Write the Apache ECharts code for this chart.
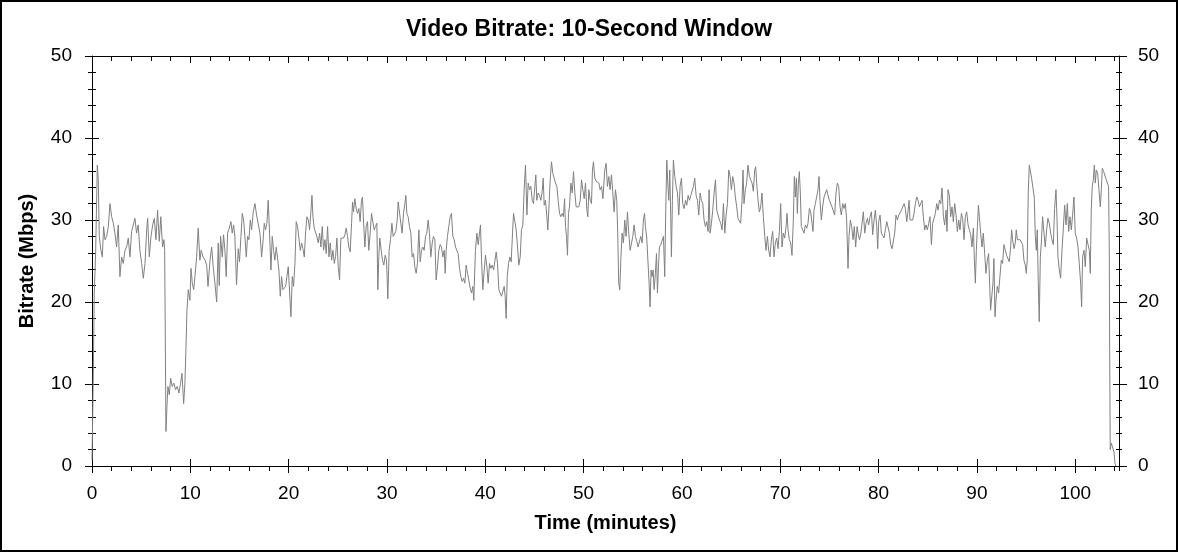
<!DOCTYPE html>
<html>
<head>
<meta charset="utf-8">
<script src="https://cdn.jsdelivr.net/npm/echarts@6/dist/echarts.min.js"></script>
<style>
html,body{margin:0;padding:0;background:#fff;}
#chart{width:1178px;height:552px;}
</style>
</head>
<body>
<div id="chart"></div>
<script>
const chartTitle = 'Video Bitrate: 10-Second Window';
const xName = 'Time (minutes)';
const yName = 'Bitrate (Mbps)';
const xTicks = [0, 10, 20, 30, 40, 50, 60, 70, 80, 90, 100];
const yTicks = [0, 10, 20, 30, 40, 50];

const times = [
0.00,0.12,0.23,0.37,0.54,0.64,0.74,0.91,1.05,1.18,
1.32,1.49,1.66,1.83,2.00,2.17,2.33,2.50,2.67,2.84,
3.01,3.18,3.35,3.52,3.69,3.86,4.03,4.20,4.37,4.53,
4.70,4.87,5.05,5.22,5.39,5.56,5.66,5.83,6.00,6.17,
6.34,6.50,6.67,6.84,7.00,7.18,7.32,7.39,7.45,7.52,
7.62,7.72,7.86,8.00,8.16,8.33,8.50,8.67,8.84,9.01,
9.15,9.32,9.45,9.55,9.66,9.79,9.96,10.07,10.20,10.34,
10.47,10.64,10.80,10.97,11.10,11.30,11.50,11.66,11.80,12.00,
12.17,12.33,12.50,12.68,12.84,12.94,13.08,13.25,13.38,13.52,
13.65,13.79,13.96,14.13,14.26,14.40,14.53,14.70,14.87,15.00,
15.15,15.28,15.42,15.55,15.69,15.82,15.96,16.10,16.23,16.40,
16.57,16.74,16.90,17.08,17.25,17.38,17.52,17.65,17.79,17.92,
18.06,18.20,18.33,18.47,18.60,18.74,18.87,19.01,19.15,19.28,
19.42,19.55,19.69,19.82,19.96,20.10,20.23,20.37,20.50,20.64,
20.77,20.91,21.04,21.18,21.32,21.45,21.59,21.72,21.86,22.00,
22.13,22.26,22.37,22.47,22.60,22.74,22.87,23.01,23.15,23.28,
23.42,23.55,23.69,23.82,23.96,24.10,24.23,24.37,24.50,24.64,
24.77,24.91,25.04,25.18,25.31,25.45,25.59,25.72,25.85,25.99,
26.12,26.26,26.40,26.50,26.60,26.73,26.87,27.00,27.14,27.27,
27.41,27.51,27.61,27.75,27.88,28.02,28.15,28.29,28.43,28.56,
28.70,28.83,28.97,29.07,29.17,29.27,29.41,29.54,29.68,29.82,
29.95,30.09,30.22,30.36,30.50,30.63,30.77,30.90,31.04,31.14,
31.27,31.41,31.54,31.68,31.82,31.92,32.02,32.15,32.29,32.43,
32.56,32.70,32.83,32.97,33.10,33.24,33.38,33.51,33.65,33.78,
33.92,34.05,34.19,34.32,34.46,34.60,34.73,34.87,35.00,35.14,
35.27,35.41,35.54,35.68,35.82,35.92,36.02,36.15,36.29,36.43,
36.56,36.70,36.83,36.97,37.10,37.24,37.38,37.51,37.65,37.78,
37.92,38.05,38.19,38.32,38.46,38.60,38.73,38.83,39.00,39.14,
39.28,39.41,39.51,39.62,39.75,39.89,40.02,40.16,40.29,40.43,
40.56,40.70,40.84,40.97,41.11,41.24,41.38,41.51,41.65,41.79,
41.92,42.02,42.12,42.23,42.36,42.50,42.63,42.77,42.87,43.01,
43.14,43.28,43.41,43.55,43.68,43.82,43.95,44.09,44.23,44.36,
44.50,44.63,44.77,44.90,45.04,45.14,45.24,45.38,45.51,45.65,
45.79,45.89,45.99,46.12,46.26,46.36,46.46,46.60,46.73,46.87,
47.00,47.14,47.28,47.41,47.55,47.68,47.82,47.95,48.06,48.16,
48.26,48.36,48.46,48.56,48.70,48.84,48.97,49.11,49.24,49.38,
49.51,49.65,49.79,49.92,50.06,50.19,50.33,50.43,50.53,50.67,
50.80,50.90,51.00,51.14,51.28,51.41,51.55,51.68,51.82,51.96,
52.15,52.29,52.42,52.56,52.69,52.83,52.96,53.10,53.24,53.37,
53.47,53.57,53.68,53.78,53.91,54.05,54.18,54.32,54.46,54.59,
54.73,54.86,55.00,55.13,55.27,55.41,55.54,55.68,55.81,55.95,
56.08,56.19,56.29,56.42,56.56,56.66,56.76,56.86,56.96,57.07,
57.17,57.30,57.41,57.51,57.61,57.71,57.85,57.98,58.12,58.25,
58.35,58.46,58.56,58.66,58.76,58.86,58.93,59.03,59.13,59.27,
59.41,59.54,59.68,59.81,59.95,60.08,60.22,60.36,60.49,60.63,
60.76,60.90,61.03,61.17,61.30,61.44,61.58,61.71,61.85,61.98,
62.12,62.25,62.39,62.52,62.66,62.76,62.86,63.00,63.13,63.27,
63.41,63.54,63.68,63.81,63.95,64.08,64.22,64.36,64.49,64.63,
64.76,64.90,65.03,65.16,65.30,65.43,65.57,65.70,65.84,65.97,
66.11,66.21,66.31,66.45,66.58,66.72,66.86,66.99,67.13,67.26,
67.40,67.50,67.60,67.74,67.87,68.01,68.14,68.28,68.42,68.55,
68.69,68.82,68.96,69.09,69.23,69.36,69.50,69.64,69.77,69.91,
70.04,70.18,70.31,70.45,70.59,70.69,70.79,70.92,71.06,71.19,
71.33,71.43,71.53,71.64,71.74,71.84,71.94,72.04,72.14,72.28,
72.42,72.55,72.69,72.82,72.96,73.09,73.23,73.33,73.43,73.57,
73.70,73.84,73.94,74.04,74.18,74.31,74.45,74.58,74.72,74.86,
74.99,75.13,75.26,75.40,75.53,75.67,75.80,75.94,76.08,76.21,
76.35,76.48,76.62,76.75,76.89,76.99,77.13,77.26,77.40,77.53,
77.67,77.81,77.94,78.05,78.18,78.32,78.45,78.59,78.72,78.86,
78.99,79.13,79.27,79.40,79.54,79.67,79.81,79.91,80.01,80.15,
80.28,80.42,80.55,80.69,80.83,80.96,81.10,81.23,81.37,81.50,
81.64,81.77,81.91,82.05,82.18,82.32,82.45,82.59,82.72,82.86,
82.99,83.10,83.20,83.33,83.47,83.60,83.74,83.88,84.01,84.15,
84.28,84.42,84.55,84.69,84.82,84.96,85.10,85.23,85.37,85.50,
85.64,85.77,85.91,86.05,86.18,86.32,86.45,86.59,86.72,86.86,
86.96,87.06,87.20,87.33,87.47,87.60,87.74,87.88,88.01,88.15,
88.28,88.42,88.55,88.69,88.82,88.96,89.10,89.23,89.37,89.50,
89.64,89.74,89.84,89.94,90.05,90.15,90.25,90.38,90.52,90.65,
90.79,90.92,91.06,91.19,91.29,91.39,91.53,91.63,91.73,91.84,
91.94,92.07,92.21,92.34,92.48,92.61,92.75,92.89,93.02,93.16,
93.29,93.43,93.53,93.63,93.77,93.90,94.00,94.11,94.24,94.38,
94.51,94.65,94.78,94.92,95.02,95.12,95.22,95.33,95.46,95.56,
95.70,95.83,95.94,96.04,96.14,96.24,96.34,96.45,96.55,96.68,
96.82,96.95,97.09,97.22,97.36,97.50,97.63,97.77,97.90,98.04,
98.14,98.24,98.38,98.51,98.65,98.78,98.92,99.06,99.19,99.33,
99.46,99.60,99.73,99.87,100.00,100.14,100.28,100.41,100.55,100.65,
100.75,100.89,101.02,101.16,101.29,101.43,101.53,101.63,101.73,101.84,
101.94,102.04,102.14,102.28,102.41,102.55,102.65,102.75,102.89,103.02,
103.16,103.29,103.39,103.46,103.50,103.56,103.67,103.80,103.94,104.04,
104.14
];

const rates = [
0.7,10,21,26,36.7,34.9,28,26.3,25.5,29.2,
27.6,28,29.2,32,30.4,29.6,28.4,26.7,29.4,23.1,
25.5,24.7,26.3,26.7,27.8,25.5,28.6,28.8,30.2,28.4,
29.4,26.3,24.7,22.9,24.7,28.8,30.2,25.5,28,29.4,
30.2,27.6,31.2,27.4,30.4,26.7,27.6,26.3,16.2,4.2,
7.2,9.7,8.7,10.7,9.7,10.1,9.3,9.7,8.9,10.1,
11.3,7.6,10.1,14.1,19,21.5,20.2,24.1,22.3,21.5,
23.1,25.5,29,25.1,26.3,25.5,25.1,24.5,21.9,25.1,
26.7,24.3,22.3,20,27.2,22,28,25.5,28.2,26.3,
23.1,28.4,29,29.8,28.4,29.4,28,22.1,26.5,24.9,
28,30.8,30,28,25.5,28,27.6,30,28.8,31,
32,30.6,30.8,28.4,25.5,27.2,29.6,28.8,29.6,32.4,
28.4,23.9,28,26.3,25.1,26.7,26.5,23.9,20.7,23.1,
21.5,21.7,21.9,23.1,24.3,21.1,18.2,23.1,21.9,24.7,
29.8,29.2,29,26.3,27.2,26.5,25.5,28.4,30.4,30,
28.8,31,33,30.4,29,28.8,28,27.2,28.4,26.7,
29.2,26.3,27.6,25.9,29.2,25.5,27.2,25.1,26.3,24.7,
25.5,27.8,24.3,22.7,27.8,28,27.8,28.2,29,28,
26.7,26.1,29.6,32.2,31,32.6,31.4,30.8,31.4,29.8,
32.4,32.8,30,26.7,29.2,29.8,26.3,28.4,30.8,29.8,
28.8,29.2,29.6,21.5,25.5,27.8,26.3,25.1,24.5,25.7,
25.1,20.4,26.3,27.6,29.6,28,27.8,28.6,30,32.2,
32,29.6,28.4,30.8,32,33,30.8,30.4,29.2,28.4,
25.5,25.9,24.3,23.5,24.7,28.8,24.9,26.3,26.7,26.3,
28,28.4,30,28.4,25.5,27.2,28,27.6,22.7,24.3,
26.3,27,26.7,25.5,26.3,23.5,26.3,28,29.2,30.4,
30.8,28,27.6,26.7,26.5,25.9,24.1,23.1,22.5,22.9,
22.3,24.5,23.5,22.7,21.7,21.1,21.9,20.2,26.3,28.4,
27,28.4,29.4,25.1,21.5,23.9,25.7,24.3,22.3,24.7,
24.1,24.5,23.9,23.7,26.1,24.7,21.5,21.1,20.7,20.9,
21.9,20.7,18,23.1,24.7,25.5,24.9,28.4,30.8,29.8,
28.8,26.7,24.5,25.5,28.8,29.4,33.7,36.7,30.6,34.5,
33.7,34.1,32.4,32,34.1,35.5,32.4,33.3,33,32.4,
33.5,35.1,31.8,32.4,30.4,28.8,31.2,34.9,37.1,35.7,
35.1,34.5,34.1,32.4,30.8,30.4,30.8,30.4,32.6,29.2,
28,25.7,30.8,31.6,34.5,33.3,35.9,33.3,31.6,31.4,
31.6,32.4,34.9,33.7,32.6,34.5,31.2,30.4,33.7,32.4,
32,36.1,37.1,35.1,34.7,34.7,34.5,33.7,34.1,32.6,
36.1,36.9,34.1,35.3,33.7,35.5,33.5,31,33.7,32.4,
28.4,22.3,21.5,25.1,28.4,27.2,30,28,31,28.4,
26.3,26.1,28,29.4,28,27.4,26.7,26.7,28,27.2,
30,30.8,29.2,27.8,27.6,22.3,19.4,23.9,23.1,23.9,
21.5,23.5,25.9,21.1,24.3,26.7,27,27.2,28,23.1,
31.2,37.3,34.5,32.4,36.1,30.4,25.5,32.4,37.3,35.3,
34.1,33.3,30.6,34.1,35.1,32,31.4,32.4,31.8,33,
32.4,33,32.8,34.1,35.1,33,32.4,30.6,33.3,32.4,
32,30,29.2,29.8,28.6,33.7,28.4,29.6,31.2,33.3,
34.9,31.2,31.4,30,29.6,28.8,32,28.4,30.6,32,
36.1,35.3,33.7,35.3,34.5,32.8,31.6,30.2,30,29.6,
32.4,36.1,32,33.7,34.5,36.7,35.3,34.9,34.5,33.5,
36.1,36.5,34.5,32.4,31,31.6,33.3,30.4,28,26.3,
28,26.3,25.5,27.6,28.6,25.5,27.2,27.8,26.5,28.6,
32,26.7,28.4,27.8,29.2,30.8,28.8,27.6,27.2,25.7,
30,35.3,32.8,35.1,30.8,34.5,35.9,33.3,29.2,29.2,
28.4,29.4,29,29.6,31.4,31,29.6,28.6,31.2,32,
32,33.7,35.3,32.4,30,31.6,32.8,33,33.7,33,
32.4,32.2,31.6,31.4,30.6,33.3,34.5,34.1,31.6,30.6,
32,31.4,32,30,24.1,28,30,29.2,27.6,29.2,
26.7,29.2,28.2,27.6,28.2,28.4,31,28.4,29.6,30.2,
29.4,30.4,31,28.2,30,31.2,29.2,26.5,29.8,30.6,
28.4,28.2,27.8,28.8,29.8,30,28.4,27,26.5,26.4,
28.4,30.6,30,30.6,30.4,31.2,31.4,32,31.4,29.8,
31,32.4,30,29.8,30,30.8,32,32.8,32.4,31.6,
31.4,32.4,30.4,28.8,29.4,28.8,29.6,30.4,27,29.6,
30.2,30.8,32,31.2,32.4,32,33.9,30.4,29.4,31.2,
28.6,33.7,33,30.4,31.6,29.8,32,30.6,28.6,30,
28.8,30.8,30.2,27.6,30.4,31,29.4,28.8,28.2,26.7,
29,25.1,22.3,26.3,29.2,31.8,30.4,28.4,26.7,28.4,
25.9,23.5,25.1,25.9,22.3,19,19,22.3,25.3,18.2,
20.2,21.9,21.1,23.1,25.1,24.7,27,26.3,25.7,25.5,
24.9,26.7,28.8,27.6,26.5,27.2,28.8,27.6,27.8,27.6,
27.4,27,25.1,24.5,23.5,25.1,33.3,36.7,36.5,35.1,
34.9,32.8,28,26.3,28.8,22.3,17.6,25.5,27.2,30.4,
28.4,26.7,28.8,30.2,29.6,28.4,27.6,27,31.4,33.7,
30.4,25.5,23.9,22.9,26.3,28.8,31.8,29.4,32,28.6,
30.4,28.8,30.6,32.8,28.4,27.8,26.7,24.7,22.3,19.4,
25.5,26.3,24.3,27.8,27.6,26.3,23.5,31.2,34.1,34.9,
36.7,34.5,36.1,35.7,33.7,31.6,33.7,36.3,35.9,35.7,
34.9,34.7,34.1,26.3,14.1,2,2.8,2.8,1.7,0.3,
0
];

const xMin = 0, xMax = 104.45, xMajor = 10, xMinor = 2;
const yMin = 0, yMax = 50, yMajor = 10, yMinor = 2;

const FONT = '"Liberation Sans", Arial, Helvetica, sans-serif';
const chart = echarts.init(document.getElementById('chart'), null, {renderer: 'canvas'});

function xAx(opts) {
  return Object.assign({
    type: 'value', min: xMin, max: xMax, interval: xMajor, position: 'bottom',
    axisLine: {show: false, onZero: false},
    axisTick: {show: true, inside: false, length: 7, lineStyle: {color: '#000', width: 1}},
    axisLabel: {show: false},
    splitLine: {show: false}
  }, opts);
}
function yAx(opts) {
  return Object.assign({
    type: 'value', min: yMin, max: yMax, interval: yMajor, position: 'left',
    axisLine: {show: false, onZero: false},
    axisTick: {show: true, inside: false, length: 7, lineStyle: {color: '#000', width: 1}},
    axisLabel: {show: false},
    splitLine: {show: false}
  }, opts);
}

const option = {
  animation: false,
  backgroundColor: '#fff',
  title: {
    text: chartTitle, left: 'center', top: 13,
    textStyle: {fontFamily: FONT, fontSize: 23, fontWeight: 'bold', color: '#000'}
  },
  grid: {left: 92, right: 59, top: 56, bottom: 86, containLabel: false},
  xAxis: [
    xAx({
      axisLine: {show: true, onZero: false, lineStyle: {color: '#000', width: 1}},
      axisLabel: {show: true, margin: 18, fontFamily: FONT, fontSize: 19, color: '#000', showMaxLabel: false,
        formatter: v => xTicks.indexOf(v) >= 0 ? String(v) : ''},
      name: xName, nameLocation: 'middle', nameGap: 47,
      nameTextStyle: {fontFamily: FONT, fontSize: 20, fontWeight: 'bold', color: '#000'}
    }),
    xAx({axisTick: {show: true, inside: true, length: 7, lineStyle: {color: '#000'}}}),
    xAx({interval: xMinor, axisTick: {show: true, inside: false, length: 5, lineStyle: {color: '#000'}}}),
    xAx({position: 'top', axisLine: {show: true, onZero: false, lineStyle: {color: '#000', width: 1}},
      axisTick: {show: true, inside: true, length: 7, lineStyle: {color: '#000'}}}),
    xAx({position: 'top', interval: xMinor, axisTick: {show: true, inside: true, length: 5, lineStyle: {color: '#000'}}})
  ],
  yAxis: [
    yAx({
      axisLine: {show: true, onZero: false, lineStyle: {color: '#000', width: 1}},
      axisLabel: {show: true, margin: 20, fontFamily: FONT, fontSize: 19, color: '#000',
        formatter: v => yTicks.indexOf(v) >= 0 ? String(v) : ''},
      name: yName, nameLocation: 'middle', nameGap: 55,
      nameTextStyle: {fontFamily: FONT, fontSize: 20, fontWeight: 'bold', color: '#000'}
    }),
    yAx({axisTick: {show: true, inside: true, length: 7, lineStyle: {color: '#000'}}}),
    yAx({interval: yMinor, axisTick: {show: true, inside: false, length: 4, lineStyle: {color: '#000'}}}),
    yAx({interval: yMinor, axisTick: {show: true, inside: true, length: 4, lineStyle: {color: '#000'}}}),
    yAx({
      position: 'right',
      axisLine: {show: true, onZero: false, lineStyle: {color: '#000', width: 1}},
      axisTick: {show: true, inside: false, length: 8, lineStyle: {color: '#000'}},
      axisLabel: {show: true, margin: 19, fontFamily: FONT, fontSize: 19, color: '#000',
        formatter: v => yTicks.indexOf(v) >= 0 ? String(v) : ''}
    }),
    yAx({position: 'right', axisTick: {show: true, inside: true, length: 6, lineStyle: {color: '#000'}}}),
    yAx({position: 'right', interval: yMinor, axisTick: {show: true, inside: false, length: 3, lineStyle: {color: '#000'}}}),
    yAx({position: 'right', interval: yMinor, axisTick: {show: true, inside: true, length: 3, lineStyle: {color: '#000'}}})
  ],
  graphic: [{
    type: 'rect', silent: true, z: 100,
    shape: {x: 1, y: 1, width: 1176, height: 550},
    style: {fill: 'none', stroke: '#000', lineWidth: 2}
  }],
  series: [{
    type: 'line', xAxisIndex: 0, yAxisIndex: 0,
    data: times.map((t, i) => [t, rates[i]]),
    showSymbol: false, symbol: 'none', smooth: false, sampling: null,
    lineStyle: {color: '#808080', width: 1},
    emphasis: {disabled: true}
  }]
};
chart.setOption(option);
</script>
</body>
</html>
